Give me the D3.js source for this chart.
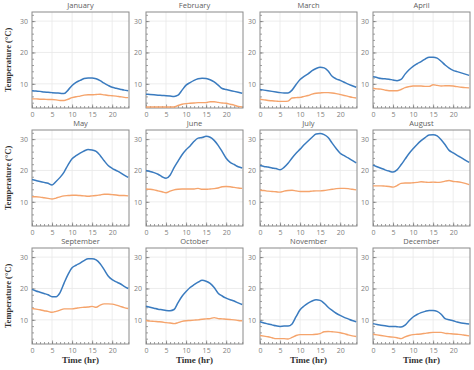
<!DOCTYPE html>
<html>
<head>
<meta charset="utf-8">
<script src="https://cdn.jsdelivr.net/npm/d3@7"></script>
<style>
  body { margin: 0; background: #fff; }
  .tick-label { font-family: "Open Sans", sans-serif; font-size: 7px; fill: #808080; }
  .title { font-family: "Open Sans", sans-serif; font-size: 7.5px; fill: #606060; }
  .axis-title { font-family: "Liberation Serif", serif; font-weight: bold; fill: #333; }
</style>
</head>
<body>
<div id="chart"></div>
<script>
// month names
var months = ["January", "February", "March", "April", "May", "June",
  "July", "August", "September", "October", "November", "December"];

// hours of the day
var hours = d3.range(0, 25);

// tick values
var xTicks = [0, 5, 10, 15, 20];
var yTicks = [10, 20, 30];

// blue series (upper line), one row per month, 0..24 hr
var blueSeries = [
  [7.8,7.7,7.6,7.4,7.3,7.2,7.1,7.0,6.9,8.0,9.5,10.5,11.1,11.7,11.9,11.9,11.6,11.0,10.2,9.5,8.9,8.6,8.3,8.0,7.8],
  [6.7,6.6,6.5,6.4,6.3,6.2,6.1,6.0,6.4,8.0,9.6,10.4,11.1,11.6,11.8,11.7,11.3,10.6,9.6,8.5,8.2,7.9,7.6,7.3,7.0],
  [8.2,8.0,7.8,7.6,7.4,7.2,7.1,7.1,8.0,9.8,11.4,12.4,13.2,14.2,14.9,15.3,15.1,14.1,12.4,11.6,11.1,10.5,9.9,9.4,8.9],
  [12.3,12.0,11.7,11.6,11.5,11.2,11.0,11.4,13.1,14.5,15.6,16.4,17.1,17.9,18.5,18.5,18.2,17.2,16.0,15.0,14.3,13.9,13.5,13.1,12.7],
  [17.1,16.8,16.5,16.2,15.9,15.4,16.5,17.8,19.5,21.8,23.7,24.7,25.5,26.2,26.7,26.5,26.1,24.8,23.1,21.6,20.7,20.0,19.3,18.5,17.8],
  [20.0,19.7,19.3,18.8,18.0,17.5,18.5,20.9,23.0,25.0,26.6,27.8,29.3,30.3,30.5,30.9,30.6,29.6,28.0,26.0,23.9,22.6,21.9,21.2,20.8],
  [21.6,21.3,21.1,20.8,20.6,20.2,21.0,22.3,24.0,25.5,26.8,28.2,29.4,30.6,31.6,31.8,31.4,30.5,28.7,27.0,25.5,24.7,24.0,23.2,22.4],
  [21.7,21.2,20.7,20.2,19.8,19.5,20.2,21.8,23.6,25.4,26.9,28.3,29.5,30.5,31.3,31.4,31.0,29.8,28.2,26.4,25.6,24.8,24.1,23.3,22.6],
  [19.7,19.2,18.8,18.4,18.0,17.4,17.4,18.7,21.7,24.5,26.6,27.4,28.1,28.9,29.5,29.5,29.1,27.9,26.0,24.0,22.8,22.1,21.5,20.7,20.0],
  [14.3,14.0,13.7,13.4,13.2,13.0,12.9,13.3,15.5,17.5,19.0,20.3,21.2,22.0,22.6,22.3,21.6,20.3,18.5,17.6,16.9,16.4,16.0,15.4,14.9],
  [9.4,9.0,8.7,8.4,8.1,7.9,8.0,8.0,8.7,11.0,13.2,14.4,15.3,16.0,16.4,16.2,15.3,14.0,13.0,12.1,11.4,10.8,10.3,9.8,9.4],
  [8.8,8.5,8.3,8.1,7.9,7.9,7.8,7.7,8.3,9.7,10.9,11.7,12.3,12.7,13.0,13.0,12.7,11.8,10.4,10.0,9.7,9.3,9.0,8.8,8.7]
];

// orange series (lower line)
var orangeSeries = [
  [5.2,5.2,5.1,5.1,5.0,5.0,4.9,4.7,4.7,5.1,5.6,5.9,6.1,6.4,6.5,6.5,6.6,6.7,6.5,6.3,6.2,6.1,5.9,5.7,5.6],
  [2.6,2.6,2.6,2.6,2.6,2.6,2.6,2.6,3.1,3.5,3.7,3.8,3.9,4.0,4.0,4.0,4.3,4.3,4.1,3.9,3.8,3.5,3.2,2.8,2.6],
  [5.1,4.9,4.7,4.6,4.5,4.4,4.4,4.5,5.5,5.6,5.7,6.0,6.3,6.7,7.0,7.1,7.2,7.2,7.1,6.9,6.6,6.3,6.0,5.7,5.5],
  [8.6,8.4,8.3,8.0,7.8,7.8,7.8,8.2,8.8,9.1,9.3,9.3,9.3,9.2,9.2,9.7,9.5,9.3,9.4,9.4,9.3,9.1,8.9,8.8,8.7],
  [11.6,11.6,11.5,11.3,11.1,10.9,11.2,11.6,11.9,12.0,12.1,12.1,12.0,11.9,11.8,11.9,12.0,12.2,12.4,12.4,12.3,12.2,12.0,12.0,11.9],
  [14.1,14.0,13.8,13.5,13.2,12.9,13.4,13.8,14.0,14.1,14.1,14.1,14.1,14.3,14.0,14.0,14.1,14.2,14.4,14.8,14.9,14.8,14.6,14.4,14.3],
  [13.7,13.6,13.4,13.3,13.2,13.1,13.4,13.6,13.7,13.5,13.3,13.3,13.3,13.4,13.5,13.5,13.6,13.8,14.0,14.2,14.3,14.3,14.2,14.0,13.8],
  [15.1,15.1,15.1,15.0,14.9,14.7,15.2,15.9,16.0,16.0,16.1,16.2,16.4,16.3,16.2,16.3,16.2,16.3,16.6,16.8,16.5,16.4,16.2,15.9,15.5],
  [13.6,13.4,13.2,12.9,12.7,12.4,12.7,13.1,13.5,13.5,13.5,13.7,13.9,14.0,14.1,14.3,14.0,14.7,15.1,15.1,15.0,14.7,14.3,13.9,13.6],
  [9.8,9.6,9.5,9.4,9.3,9.1,9.0,8.8,9.1,9.5,9.7,9.8,9.9,10.0,10.2,10.3,10.4,10.7,10.4,10.3,10.2,10.1,10.0,9.8,9.7],
  [5.0,4.8,4.6,4.3,4.0,4.0,4.0,3.9,4.4,5.0,5.3,5.3,5.3,5.3,5.4,5.6,6.2,6.3,6.2,6.1,5.9,5.6,5.2,4.9,4.7],
  [5.4,5.2,5.0,4.8,4.6,4.5,4.3,4.0,4.6,5.0,5.3,5.4,5.5,5.7,5.9,6.0,6.0,6.0,5.7,5.6,5.5,5.4,5.3,5.1,4.9]
];

var svgWidth = 474;
var svgHeight = 370;

// panel grid
var panelW = 97;
var panelH = 96;
var colX = [32, 146, 260, 373];
var rowY = [12, 130, 248];

var svg = d3.select("#chart")
  .append("svg")
  .attr("width", svgWidth)
  .attr("height", svgHeight);

// shared scales (each panel is translated)
var x = d3.scaleLinear().domain([0, 24.2]).range([0, panelW]);
var y = d3.scaleLinear().domain([2.3, 32.9]).range([panelH, 0]);

var line = function(vals) {
  return d3.line()
    .x((d, i) => x(hours[i]))
    .y(d => y(d))
    .curve(d3.curveMonotoneX)(vals);
};

months.forEach(function(name, m) {
  var col = m % 4;
  var row = Math.floor(m / 4);
  var g = svg.append("g")
    .attr("transform", `translate(${colX[col]}, ${rowY[row]})`);

  // grid lines
  g.selectAll(".gx")
    .data(xTicks.slice(1))
    .enter()
    .append("line")
    .attr("x1", d => x(d)).attr("x2", d => x(d))
    .attr("y1", 0).attr("y2", panelH)
    .attr("stroke", "#e8e8e8").attr("stroke-width", 0.8);

  g.selectAll(".gy")
    .data(yTicks)
    .enter()
    .append("line")
    .attr("x1", 0).attr("x2", panelW)
    .attr("y1", d => y(d)).attr("y2", d => y(d))
    .attr("stroke", "#e8e8e8").attr("stroke-width", 0.8);

  // inward ticks, minor and major
  var xAxis = d3.axisBottom(x).tickValues(d3.range(0, 25)).tickSize(-2).tickFormat("");
  var xAxisMajor = d3.axisBottom(x).tickValues(xTicks).tickSize(-3.5).tickPadding(4);
  var yAxis = d3.axisLeft(y).tickValues(d3.range(4, 33, 2)).tickSize(-2).tickFormat("");
  var yAxisMajor = d3.axisLeft(y).tickValues(yTicks).tickSize(-3.5).tickPadding(4);

  [xAxis, xAxisMajor].forEach(function(ax) {
    var a = g.append("g").attr("transform", `translate(0, ${panelH})`).call(ax);
    a.select(".domain").remove();
    a.selectAll("line").attr("stroke", "#777").attr("stroke-width", 0.7);
    a.selectAll("text").attr("class", "tick-label").attr("fill", null);
  });
  [yAxis, yAxisMajor].forEach(function(ax) {
    var a = g.append("g").call(ax);
    a.select(".domain").remove();
    a.selectAll("line").attr("stroke", "#777").attr("stroke-width", 0.7);
    a.selectAll("text").attr("class", "tick-label").attr("fill", null);
  });

  // frame
  g.append("rect")
    .attr("width", panelW).attr("height", panelH)
    .attr("fill", "none")
    .attr("stroke", "#8a8a8a").attr("stroke-width", 1);

  // lines
  g.append("path")
    .attr("d", line(orangeSeries[m]))
    .attr("fill", "none").attr("stroke", "#f5a46c").attr("stroke-width", 1.4);
  g.append("path")
    .attr("d", line(blueSeries[m]))
    .attr("fill", "none").attr("stroke", "#3a7bbf").attr("stroke-width", 1.5);

  // month title
  g.append("text")
    .attr("class", "title")
    .attr("x", panelW / 2).attr("y", -4)
    .attr("text-anchor", "middle")
    .text(name);

  // y axis title on first column
  if (col === 0) {
    svg.append("text")
      .attr("class", "axis-title")
      .attr("transform", `translate(11, ${rowY[row] + panelH / 2}) rotate(-90)`)
      .attr("text-anchor", "middle")
      .attr("font-size", 8.5)
      .text("Temperature (°C)");
  }

  // x axis title on bottom row
  if (row === 2) {
    svg.append("text")
      .attr("class", "axis-title")
      .attr("x", colX[col] + panelW / 2)
      .attr("y", 363)
      .attr("text-anchor", "middle")
      .attr("font-size", 9)
      .text("Time (hr)");
  }
});
</script>
</body>
</html>
